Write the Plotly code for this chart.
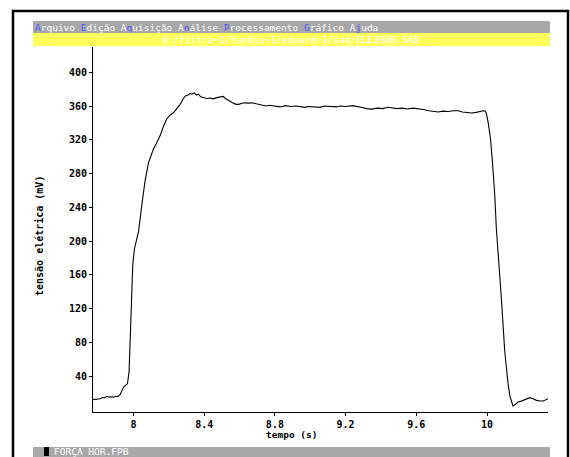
import plotly.graph_objects as go

# sinal (tempo em s, tensao em mV)
tempo = [7.771, 7.79, 7.80, 7.812, 7.825, 7.835, 7.85, 7.86, 7.87, 7.887, 7.90, 7.91,
         7.925, 7.935, 7.944, 7.955, 7.966, 7.975, 7.985, 7.996, 8.005, 8.015, 8.029,
         8.048, 8.066, 8.085, 8.10, 8.113, 8.13, 8.151, 8.17, 8.189, 8.205, 8.226,
         8.245, 8.264, 8.28, 8.293, 8.31, 8.32, 8.33, 8.345, 8.355, 8.368, 8.38,
         8.396, 8.415, 8.434, 8.45, 8.472, 8.49, 8.507, 8.52, 8.54, 8.56, 8.58,
         8.594, 8.61, 8.63, 8.65, 8.668, 8.688, 8.71, 8.733, 8.75, 8.77, 8.801,
         8.83, 8.86, 8.89, 8.92, 8.942, 8.97, 8.989, 9.02, 9.055, 9.08, 9.121,
         9.15, 9.168, 9.2, 9.24, 9.272, 9.30, 9.32, 9.347, 9.38, 9.41, 9.44,
         9.46, 9.49, 9.52, 9.55, 9.58, 9.61, 9.64, 9.67, 9.70, 9.724, 9.75,
         9.78, 9.81, 9.837, 9.86, 9.88, 9.912, 9.94, 9.96, 9.978, 9.99, 9.997,
         10.006, 10.013, 10.02, 10.031, 10.044, 10.053, 10.063, 10.072, 10.082,
         10.1, 10.11, 10.119, 10.13, 10.138, 10.147, 10.16, 10.176, 10.19,
         10.204, 10.22, 10.242, 10.26, 10.28, 10.30, 10.317, 10.33, 10.345]
tensao = [12.0, 12.5, 13.5, 13.2, 14.5, 14.0, 16.0, 15.0, 15.5, 15.0, 16.0, 15.5,
          18.3, 22.0, 27.0, 29.0, 31.0, 45.0, 110.0, 172.0, 190.0, 200.0, 212.0,
          244.0, 272.0, 293.0, 302.0, 309.0, 316.0, 325.0, 336.0, 345.0, 349.0, 352.0,
          357.0, 362.0, 368.0, 372.0, 373.0, 375.0, 374.0, 375.5, 373.0, 374.0, 371.0,
          370.0, 369.0, 369.5, 368.5, 370.0, 371.0, 371.5, 369.0, 366.0, 364.0, 362.0,
          362.0, 363.0, 364.0, 363.5, 364.0, 363.0, 362.0, 361.0, 360.0, 361.0, 359.5,
          359.0, 360.5, 359.5, 360.0, 359.5, 358.5, 359.5, 359.0, 358.5, 360.0, 359.5,
          359.0, 360.0, 359.5, 360.5, 359.5, 358.0, 357.0, 356.4, 357.5, 357.0, 358.5,
          358.0, 357.0, 357.5, 356.5, 357.5, 357.0, 356.0, 354.5, 353.5, 353.0, 354.0,
          353.5, 354.5, 354.4, 353.0, 352.5, 351.7, 352.5, 353.5, 354.4, 354.0, 351.0,
          341.0, 331.0, 321.0, 293.0, 254.0, 214.0, 186.0, 158.0, 130.0,
          70.0, 48.0, 31.0, 16.0, 9.0, 4.5, 6.5, 9.2, 10.0,
          11.2, 12.5, 14.4, 13.0, 11.2, 10.5, 10.4, 11.5, 13.2]

x_ticks = [8, 8.4, 8.8, 9.2, 9.6, 10]
x_ticktext = ["8", "8.4", "8.8", "9.2", "9.6", "10"]
y_ticks = [40, 80, 120, 160, 200, 240, 280, 320, 360, 400]

W, H = 570, 457
L, R, T, B = 93, 22, 47, 45


def px(x):
    # pixels da janela -> coordenada paper
    return (x - L) / (W - L - R)


def py(y):
    return (H - B - y) / (H - T - B)


MONO = "DejaVu Sans Mono"
AZUL = "#5555ff"


def hl(c):
    return "<span style='color:%s'>%s</span>" % (AZUL, c)


menu = (hl("A") + "rquivo " + hl("E") + "dição A" + hl("q") + "uisição A" + hl("n")
        + "álise " + hl("P") + "rocessamento " + hl("G") + "ráfico A" + hl("j") + "uda")

fig = go.Figure()
fig.add_trace(go.Scatter(x=tempo, y=tensao, mode="lines",
                         line=dict(color="black", width=1.1), hoverinfo="skip"))

shapes = [
    dict(type="rect", xref="paper", yref="paper", x0=px(13), x1=px(568), y0=py(11), y1=py(470),
         line=dict(color="black", width=2.5), fillcolor="rgba(0,0,0,0)"),
    dict(type="rect", xref="paper", yref="paper", x0=px(33), x1=px(550), y0=py(21), y1=py(33),
         line=dict(width=0), fillcolor="#a8a8a8"),
    dict(type="rect", xref="paper", yref="paper", x0=px(33), x1=px(550), y0=py(33), y1=py(46),
         line=dict(width=0), fillcolor="#ffff5c"),
    dict(type="rect", xref="paper", yref="paper", x0=px(33), x1=px(550), y0=py(447), y1=py(457),
         line=dict(width=0), fillcolor="#a8a8a8"),
    dict(type="rect", xref="paper", yref="paper", x0=px(44), x1=px(49), y0=py(447), y1=py(456),
         line=dict(width=0), fillcolor="black"),
]

anns = [
    dict(text=menu, x=px(33), y=py(27), xanchor="left", yanchor="middle",
         font=dict(family=MONO, size=9.5, color="white")),
    dict(text="d:/filtra~1/fundis~1/eduard~1/sad/ELE3000.SAD", x=px(291), y=py(39.5),
         xanchor="center", yanchor="middle", font=dict(family=MONO, size=9.5, color="white")),
    dict(text="FORÇA HOR.FPB", x=px(52), y=py(451.5), xanchor="left", yanchor="middle",
         font=dict(family=MONO, size=9.5, color="white")),
    dict(text="tempo (s)", x=px(291), y=py(434), xanchor="center", yanchor="middle",
         font=dict(family=MONO, size=9.5, color="black", weight=700)),
    dict(text="tensão elétrica (mV)", x=px(39), y=py(236), xanchor="center", yanchor="middle",
         textangle=-90, font=dict(family=MONO, size=10, color="black", weight=700)),
]
for a in anns:
    a.update(xref="paper", yref="paper", showarrow=False)

tick_font = dict(family=MONO, size=10, color="black", weight=700)
fig.update_layout(
    width=W, height=H, margin=dict(l=L, r=R, t=T, b=B),
    paper_bgcolor="white", plot_bgcolor="white", showlegend=False,
    shapes=shapes, annotations=anns,
    xaxis=dict(range=[7.771, 10.345], tickvals=x_ticks, ticktext=x_ticktext,
               showgrid=False, zeroline=False, showline=True, linecolor="black", linewidth=1,
               ticks="outside", ticklen=3, tickcolor="black", tickfont=tick_font),
    yaxis=dict(range=[-2.6, 430], tickvals=y_ticks,
               showgrid=False, zeroline=False, showline=True, linecolor="black", linewidth=1,
               ticks="outside", ticklen=3, tickcolor="black", tickfont=tick_font),
)

# tira a margem padrao do body para a figura ocupar a janela toda
fig.write_html("out.html", config={"displayModeBar": False},
               post_script="document.body.style.margin='0';document.body.style.overflow='hidden';")
